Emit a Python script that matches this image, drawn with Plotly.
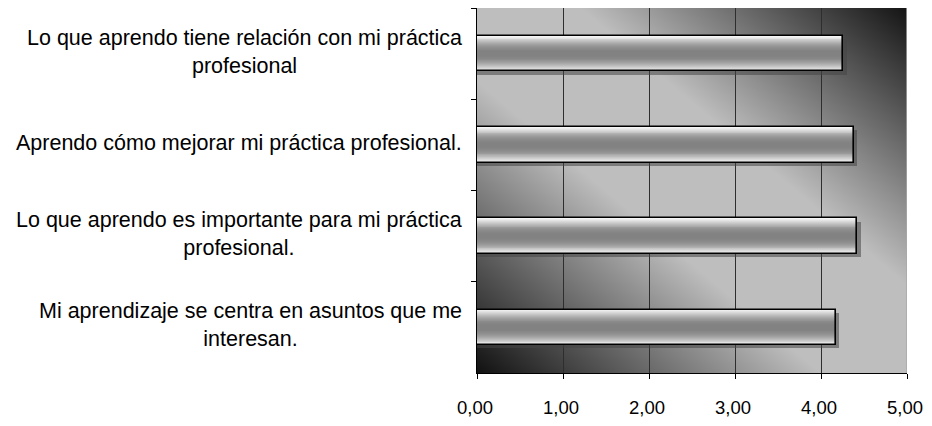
import base64
import plotly.graph_objects as go

categories = [
    "Lo que aprendo tiene relación con mi práctica<br>profesional",
    "Aprendo cómo mejorar mi práctica profesional.",
    "Lo que aprendo es importante para mi práctica<br>profesional.",
    "Mi aprendizaje se centra en asuntos que me<br>interesan.",
]
values = [4.26, 4.38, 4.42, 4.17]
x_tickvals = [0, 1, 2, 3, 4, 5]
x_ticktext = ["0,00", "1,00", "2,00", "3,00", "4,00", "5,00"]

BAR_W = 0.39
FONT = "Liberation Sans, Arial, sans-serif"

fig = go.Figure()

# shadow
fig.add_trace(go.Bar(
    y=categories, x=[v + 0.04 for v in values], orientation="h",
    width=BAR_W, offset=-BAR_W / 2 + 0.035,
    marker=dict(color="rgba(70,70,70,0.55)", line=dict(width=0)),
    hoverinfo="skip", showlegend=False,
))

# metallic gradient bands (outer light -> inner mid grey)
band_widths = [0.39, 0.37, 0.35, 0.33, 0.31, 0.29, 0.27, 0.25, 0.23,
               0.21, 0.19, 0.17, 0.15, 0.13, 0.11, 0.09, 0.07, 0.05]
band_colors = ["#f6f6f6", "#ededed", "#e3e3e3", "#d9d9d9", "#cfcfcf",
               "#c5c5c5", "#bbbbbb", "#b2b2b2", "#a9a9a9", "#a1a1a1",
               "#9a9a9a", "#949494", "#8f8f8f", "#8b8b8b", "#888888",
               "#858585", "#838383", "#828282"]
for w, c in zip(band_widths, band_colors):
    fig.add_trace(go.Bar(
        y=categories, x=values, orientation="h", width=w,
        marker=dict(color=c, line=dict(width=0)),
        hoverinfo="skip", showlegend=False,
    ))

# outline
fig.add_trace(go.Bar(
    y=categories, x=values, orientation="h", width=BAR_W,
    marker=dict(color="rgba(0,0,0,0)", line=dict(color="black", width=1.6)),
    showlegend=False,
))

# diagonal background gradient
svg = (
    '<svg xmlns="http://www.w3.org/2000/svg" width="100" height="100" '
    'viewBox="0 0 100 100" preserveAspectRatio="none">'
    '<defs><linearGradient id="g" x1="0" y1="1" x2="1" y2="0">'
    '<stop offset="0" stop-color="#111111"/>'
    '<stop offset="0.40" stop-color="#bebebe"/>'
    '<stop offset="0.62" stop-color="#bebebe"/>'
    '<stop offset="1" stop-color="#141414"/>'
    '</linearGradient></defs>'
    '<rect x="0" y="0" width="100" height="100" fill="url(#g)"/></svg>'
)
src = "data:image/svg+xml;base64," + base64.b64encode(svg.encode()).decode()

annotations = [
    dict(x=0, y=cat, xref="x", yref="y", text=cat, showarrow=False,
         xanchor="right", yanchor="middle", align="center",
         xshift=-13, yshift=2,
         font=dict(family=FONT, size=21.5, color="black"))
    for cat in categories
]

fig.update_layout(
    width=916, height=410,
    margin=dict(l=469, r=17, t=0, b=38),
    paper_bgcolor="white", plot_bgcolor="rgba(0,0,0,0)",
    barmode="overlay", bargap=0,
    font=dict(family=FONT, size=20, color="black"),
    images=[dict(source=src, xref="paper", yref="paper", x=0, y=1,
                 sizex=1, sizey=1, xanchor="left", yanchor="top",
                 sizing="stretch", layer="below")],
    annotations=annotations,
    shapes=[dict(type="line", xref="x", yref="paper", x0=5, x1=5, y0=0, y1=1,
                 line=dict(color="#a8a8a8", width=1.5))],
    xaxis=dict(range=[0, 5], tickvals=x_tickvals, ticktext=x_ticktext,
               showgrid=True, gridcolor="#2e2e2e", gridwidth=1,
               zeroline=False, showline=True, linecolor="black", linewidth=1,
               ticks="outside", ticklen=5, tickcolor="black",
               ticklabelstandoff=13, ticklabelshift=-2,
               tickfont=dict(family=FONT, size=18.5, color="black"),
               fixedrange=True),
    yaxis=dict(categoryorder="array", categoryarray=categories,
               autorange="reversed", showticklabels=False,
               tickson="boundaries", ticks="outside", ticklen=5,
               tickcolor="black", showline=True, linecolor="black",
               linewidth=1, showgrid=False, zeroline=False),
)

fig.write_html("out.html")
